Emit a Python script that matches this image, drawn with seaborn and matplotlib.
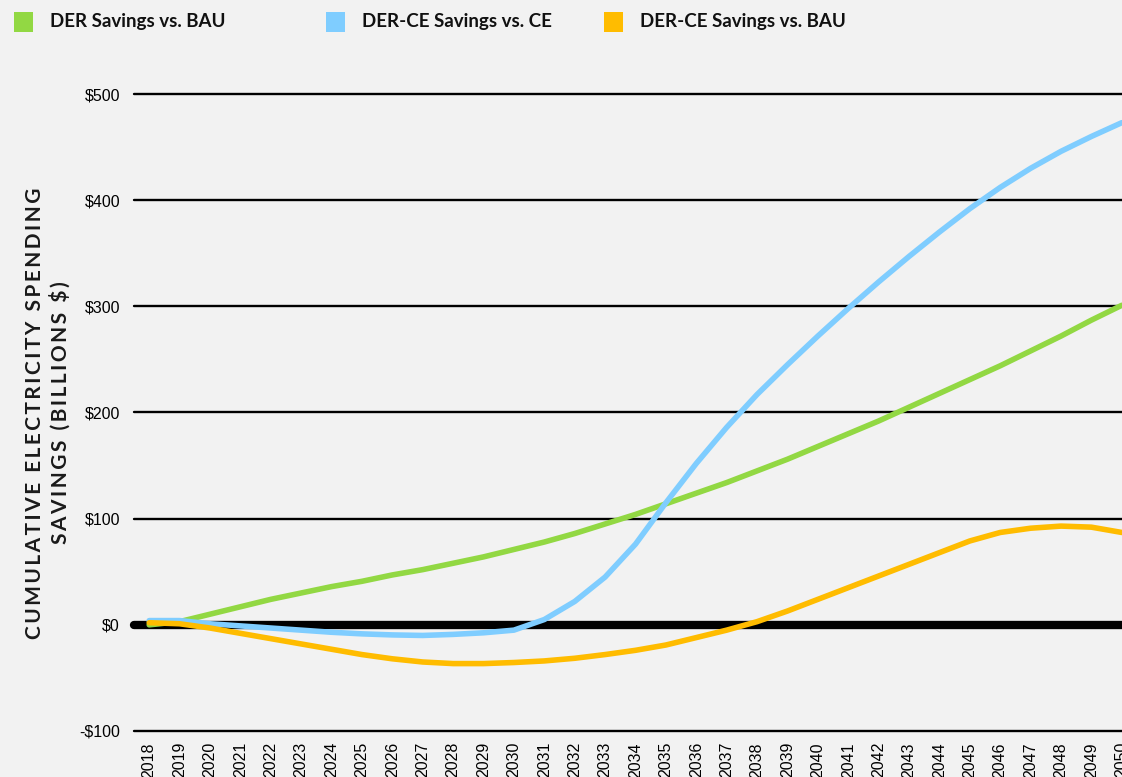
import pandas as pd
import matplotlib.pyplot as plt
import seaborn as sns
from matplotlib.patches import Rectangle

# values (billions $, cumulative)
years = list(range(2018, 2051))
der_vs_bau = [0, 3, 10, 17, 24, 30, 36, 41, 47, 52, 58, 64, 71, 78, 86, 95, 104,
              114, 124, 134, 145, 156, 168, 180, 192, 205, 218, 231, 244, 258, 272, 287, 301]
derce_vs_ce = [4, 4, 1, -1, -3, -5, -7, -8.5, -9.5, -10, -9, -7.5, -5, 5, 22, 45, 76,
               115, 152, 186, 217, 245, 272, 298, 323, 347, 370, 392, 412, 430, 446, 460, 473]
derce_vs_bau = [2, 1, -3, -8, -13, -18, -23, -28, -32, -35, -36.5, -36.5, -35.5, -34, -31.5, -28, -24,
                -19, -12, -5, 3, 13, 24, 35, 46, 57, 68, 79, 87, 91, 93, 92, 87]

series_names = ['DER Savings vs. BAU', 'DER-CE Savings vs. CE', 'DER-CE Savings vs. BAU']
colors = ['#92d843', '#7fcdff', '#ffbc00']
y_ticks = [-100, 0, 100, 200, 300, 400, 500]
y_tick_labels = ['-$100', '$0', '$100', '$200', '$300', '$400', '$500']

df = pd.DataFrame({
    'year': years * 3,
    'savings': der_vs_bau + derce_vs_ce + derce_vs_bau,
    'series': [series_names[0]] * len(years) + [series_names[1]] * len(years) + [series_names[2]] * len(years),
})

sns.set_theme(style="white")
plt.rcParams['font.family'] = ['Liberation Sans', 'DejaVu Sans']
bg = '#f2f2f2'

fig = plt.figure(figsize=(11.22, 7.77), dpi=100, facecolor=bg)
ax = fig.add_axes([134 / 1122, 46 / 777, 1003 / 1122, 637 / 777])
ax.set_facecolor(bg)

for v in y_ticks:
    ax.axhline(v, color='black', lw=6 if v == 0 else 1.7, zorder=1, clip_on=False)

sns.lineplot(data=df, x='year', y='savings', hue='series', palette=colors,
             hue_order=series_names, lw=4, legend=False, ax=ax, zorder=3)

ax.set_xlim(2017.5, 2050.5)
ax.set_ylim(-100, 500)
ax.set_xticks(years)
ax.set_xticklabels([str(y) for y in years], rotation=90, fontsize=11.5)
ax.set_yticks(y_ticks)
ax.set_yticklabels(y_tick_labels, fontsize=11.5)
ax.tick_params(axis='both', length=0, colors='black')
ax.tick_params(axis='y', pad=10)
ax.tick_params(axis='x', pad=8)
ax.set_xlabel('')
ax.set_ylabel('')
for s in ax.spines.values():
    s.set_visible(False)

# widely tracked axis title
def spaced(s):
    return '\u200a\u200a'.join(s)

ylab = spaced('CUMULATIVE ELECTRICITY SPENDING') + '\n' + spaced('SAVINGS (BILLIONS $)')
fig.text(47.5 / 1122, 1 - 413 / 777, ylab,
         rotation=90, ha='center', va='center', multialignment='center',
         fontsize=15, fontweight='bold', family=['Lato', 'DejaVu Sans'], color='#1a1a1a',
         linespacing=1.25)

# legend across the top
legend_x = [14, 326, 604]
for x0, name, c in zip(legend_x, series_names, colors):
    fig.add_artist(Rectangle((x0 / 1122, 1 - 32 / 777), 19 / 1122, 20 / 777,
                             transform=fig.transFigure, facecolor=c, edgecolor='none'))
    fig.text((x0 + 36) / 1122, 1 - 22 / 777, name, ha='left', va='center',
             fontsize=13.5, fontweight='bold', family=['Lato', 'DejaVu Sans'], color='#111111')

fig.savefig('out.png', dpi=100, facecolor=bg)
